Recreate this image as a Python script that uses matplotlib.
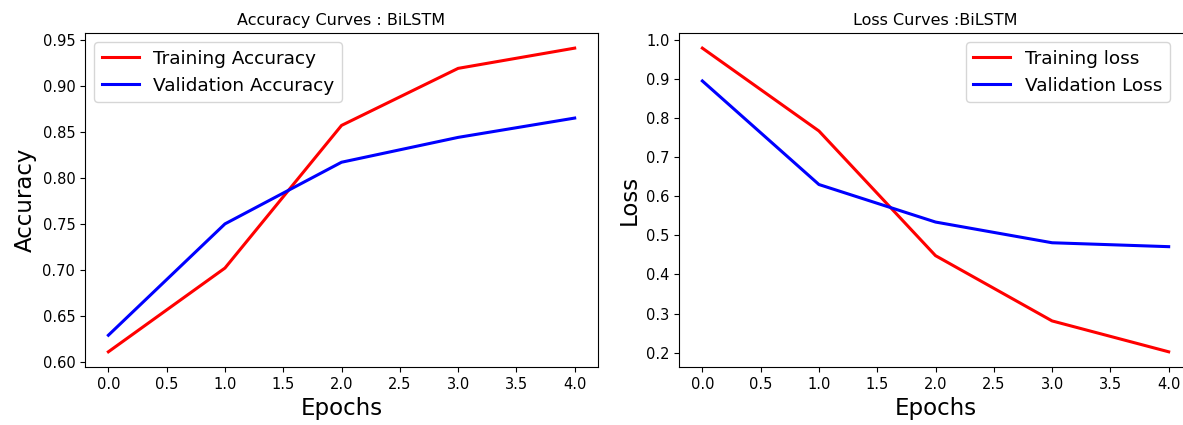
import matplotlib
matplotlib.use("Agg")
import matplotlib.pyplot as plt

epochs = [0, 1, 2, 3, 4]
train_acc = [0.611, 0.702, 0.857, 0.919, 0.941]
val_acc = [0.629, 0.750, 0.817, 0.844, 0.865]
train_loss = [0.979, 0.767, 0.448, 0.281, 0.202]
val_loss = [0.895, 0.630, 0.534, 0.481, 0.471]

fig = plt.figure(figsize=(11.83, 4.25), dpi=100)

ax1 = fig.add_axes([0.0719, 0.1365, 0.4336, 0.786])
ax1.plot(epochs, train_acc, color="red", lw=2.2, label="Training Accuracy")
ax1.plot(epochs, val_acc, color="blue", lw=2.2, label="Validation Accuracy")
ax1.set_title("Accuracy Curves : BiLSTM", fontsize=11.5)
ax1.set_xlabel("Epochs", fontsize=16.5)
ax1.set_ylabel("Accuracy", fontsize=16.5)
ax1.tick_params(labelsize=10.5)
ax1.legend(loc="upper left", fontsize=13.3)

ax2 = fig.add_axes([0.574, 0.1365, 0.4336, 0.786])
ax2.plot(epochs, train_loss, color="red", lw=2.2, label="Training loss")
ax2.plot(epochs, val_loss, color="blue", lw=2.2, label="Validation Loss")
ax2.set_title("Loss Curves :BiLSTM", fontsize=11.5)
ax2.set_xlabel("Epochs", fontsize=16.5)
ax2.set_ylabel("Loss", fontsize=16.5)
ax2.tick_params(labelsize=10.5)
ax2.legend(loc="upper right", fontsize=13.3, bbox_to_anchor=(0.975, 1.0))

fig.savefig("out.png", dpi=100)
